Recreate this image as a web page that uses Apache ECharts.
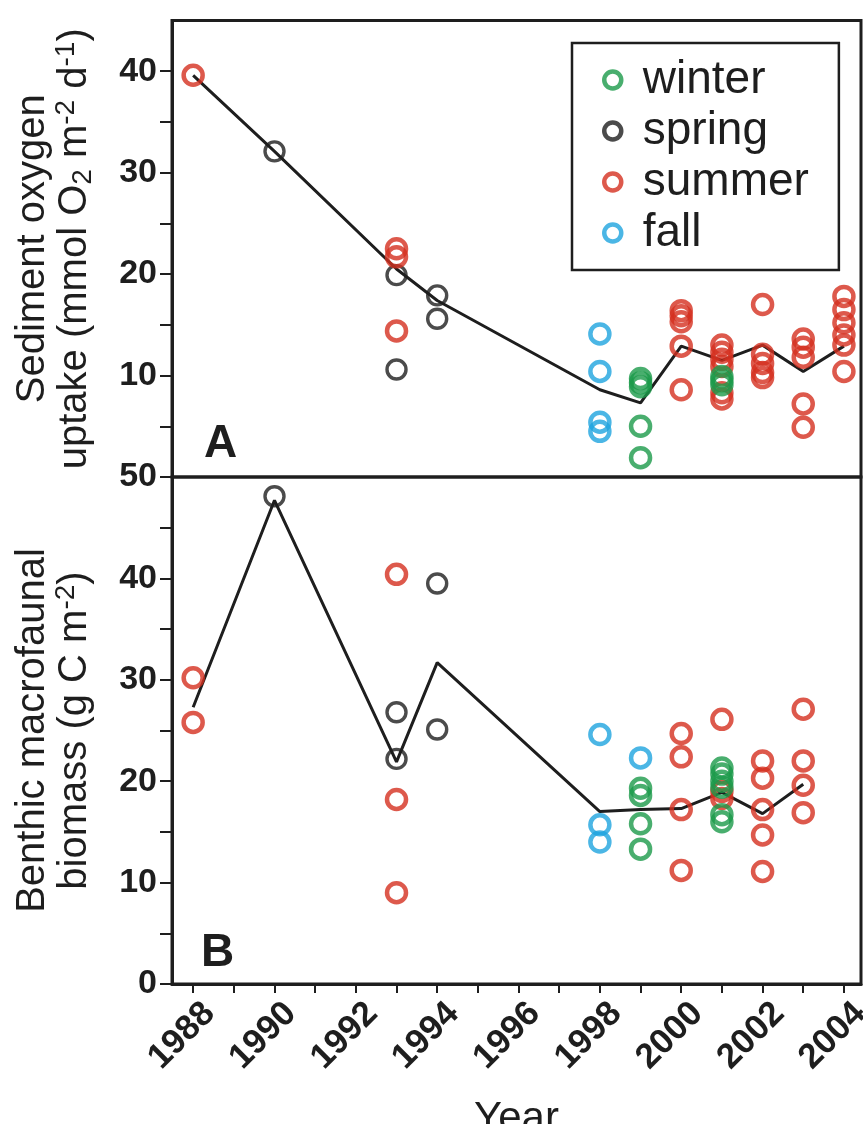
<!DOCTYPE html>
<html>
<head>
<meta charset="utf-8">
<script src="https://cdn.jsdelivr.net/npm/echarts@6/dist/echarts.min.js"></script>
<style>
html,body{margin:0;padding:0;background:#fff;}
#c{width:863px;height:1124px;}
</style>
</head>
<body>
<div id="c"></div>
<script>
// ---------- data ----------
const seasons = ['winter', 'spring', 'summer', 'fall'];
const yearTicks = [1988,1989,1990,1991,1992,1993,1994,1995,1996,1997,1998,1999,2000,2001,2002,2003,2004];
const yearLabels = [1988,1990,1992,1994,1996,1998,2000,2002,2004];
const topTicks = [5,10,15,20,25,30,35,40];
const topLabels = [10,20,30,40];
const botTicks = [0,5,10,15,20,25,30,35,40,45,50];
const botLabels = [0,10,20,30,40,50];

// Panel A: sediment oxygen uptake
const oxyWinter = [[1999,9.7],[1999,9.3],[1999,8.9],[1999,5.0],[1999,1.9],[2001,9.9],[2001,9.5],[2001,9.1]];
const oxySpring = [[1990,32.1],[1993,19.9],[1993,10.6],[1994,17.9],[1994,15.6]];
const oxySummer = [[1988,39.6],[1993,22.5],[1993,21.7],[1993,14.4],
  [2000,16.4],[2000,15.9],[2000,15.3],[2000,12.9],[2000,8.6],
  [2001,13.0],[2001,12.3],[2001,11.6],[2001,10.9],[2001,8.3],[2001,7.7],
  [2002,17.0],[2002,12.1],[2002,11.2],[2002,10.3],[2002,9.8],
  [2003,13.6],[2003,12.8],[2003,11.8],[2003,7.2],[2003,4.9],
  [2004,17.8],[2004,16.5],[2004,15.2],[2004,14.0],[2004,13.0],[2004,10.4]];
const oxyFall = [[1998,14.1],[1998,10.4],[1998,5.4],[1998,4.5]];
const oxyLineYears = [1988,1990,1993,1994,1998,1999,2000,2001,2002,2003,2004];
const oxyLineVals  = [39.6,32.1,20.5,17.4,8.6,7.3,12.9,11.5,13.0,10.4,12.9];

// Panel B: benthic macrofaunal biomass
const bioWinter = [[1999,19.3],[1999,18.6],[1999,15.8],[1999,13.3],[2001,21.3],[2001,20.7],[2001,20.0],[2001,19.4],[2001,16.7],[2001,16.0]];
const bioSpring = [[1990,48.1],[1993,26.8],[1993,22.2],[1994,39.5],[1994,25.1]];
const bioSummer = [[1988,30.2],[1988,25.8],[1993,40.4],[1993,18.2],[1993,9.0],
  [2000,24.7],[2000,22.4],[2000,17.2],[2000,11.2],
  [2001,26.1],[2001,19.0],[2001,18.3],
  [2002,22.0],[2002,20.3],[2002,17.2],[2002,14.7],[2002,11.1],
  [2003,27.1],[2003,22.0],[2003,19.6],[2003,16.9]];
const bioFall = [[1998,24.6],[1998,15.7],[1998,14.0],[1999,22.3]];
const bioLineYears = [1988,1990,1993,1994,1998,1999,2000,2001,2002,2003];
const bioLineVals  = [27.3,47.7,21.9,31.7,17.0,17.2,17.3,18.9,16.8,19.7];

// ---------- styles ----------
const FONT = 'Liberation Sans, Arial, sans-serif';
const INK = '#1e1e1e';
const colors = {winter:'#1c9a4a', spring:'#1e1e1e', summer:'#d4301f', fall:'#1ea4de'};
const ringW = {winter:4.5, spring:3.4, summer:4.5, fall:4.5};

function scatter(name, data, idx){
  return {
    name, type:'scatter', xAxisIndex:idx, yAxisIndex:idx, data,
    symbol:'circle', symbolSize:19,
    itemStyle:{color:'rgba(255,255,255,0)', borderColor:colors[name], borderWidth:ringW[name]},
    emphasis:{disabled:true}, z:3
  };
}
function line(years, vals, idx){
  return {
    type:'line', xAxisIndex:idx, yAxisIndex:idx,
    data: years.map((y,i)=>[y, vals[i]]),
    showSymbol:false, symbol:'none',
    lineStyle:{color:INK, width:3}, z:2, silent:true
  };
}

const xCommon = {type:'value', min:1987.48, max:2004.42, splitLine:{show:false}};
const yName = {
  nameLocation:'middle', nameRotate:90, nameGap:76,
  nameTextStyle:{fontFamily:FONT, fontSize:40, color:INK, lineHeight:42, align:'center',
    rich:{
      sub:{fontFamily:FONT, fontSize:28, color:INK, padding:[16,0,0,0]},
      sup:{fontFamily:FONT, fontSize:28, color:INK, padding:[0,0,18,0]}
    }}
};
const axisLabelStyle = {fontFamily:FONT, fontSize:34, fontWeight:'bold', color:INK};

const option = {
  backgroundColor:'#fff',
  animation:false,
  grid:[
    {left:172, top:20.5, width:689, height:456.5, show:true, borderColor:INK, borderWidth:3,
     backgroundColor:'transparent', outerBoundsMode:'none', containLabel:false},
    {left:172, top:477, width:689, height:507, show:true, borderColor:INK, borderWidth:3,
     backgroundColor:'transparent', outerBoundsMode:'none', containLabel:false}
  ],
  xAxis:[
    Object.assign({}, xCommon, {gridIndex:0, axisLine:{show:false}, axisTick:{show:false}, axisLabel:{show:false}}),
    Object.assign({}, xCommon, {gridIndex:1,
      axisLine:{show:true, onZero:false, lineStyle:{color:INK, width:3}},
      axisTick:{show:true, customValues:yearTicks, length:9, lineStyle:{color:INK, width:2}},
      axisLabel:{customValues:yearLabels, rotate:45, margin:8, verticalAlign:'top', lineHeight:36,
        padding:[5,0,0,0], formatter:v=>String(v),
        fontFamily:FONT, fontSize:35, fontWeight:'bold', color:INK},
      name:'Year', nameLocation:'middle', nameGap:114,
      nameTextStyle:{fontFamily:FONT, fontSize:42, color:INK}
    })
  ],
  yAxis:[
    Object.assign({}, yName, {type:'value', gridIndex:0, min:0, max:45,
      splitLine:{show:false},
      axisLine:{show:true, onZero:false, lineStyle:{color:INK, width:3}},
      axisTick:{show:true, customValues:topTicks, length:12, lineStyle:{color:INK, width:2}},
      axisLabel:Object.assign({customValues:topLabels, margin:15}, axisLabelStyle),
      name:'Sediment oxygen\nuptake (mmol O{sub|2} m{sup|-2} d{sup|-1})'
    }),
    Object.assign({}, yName, {type:'value', gridIndex:1, min:0, max:50,
      splitLine:{show:false},
      axisLine:{show:true, onZero:false, lineStyle:{color:INK, width:3}},
      axisTick:{show:true, customValues:botTicks, length:12, lineStyle:{color:INK, width:2}},
      axisLabel:Object.assign({customValues:botLabels, margin:15}, axisLabelStyle),
      name:'Benthic macrofaunal\nbiomass (g C m{sup|-2})'
    })
  ],
  legend:{
    orient:'vertical', left:572, top:43, padding:[14,30,14,30], itemGap:5,
    itemWidth:50, itemHeight:17, borderColor:INK, borderWidth:2.5, backgroundColor:'#fff',
    selectedMode:false,
    textStyle:{fontFamily:FONT, fontSize:46, color:INK},
    data: seasons.map(s=>({name:s, icon:'circle',
      itemStyle:{color:'#fff', borderColor:colors[s], borderWidth:4.5}}))
  },
  graphic:[
    {type:'text', left:204, top:421, style:{text:'A', fontFamily:FONT, fontSize:46, fontWeight:'bold', fill:INK}},
    {type:'text', left:201, top:930, style:{text:'B', fontFamily:FONT, fontSize:46, fontWeight:'bold', fill:INK}}
  ],
  series:[
    line(oxyLineYears, oxyLineVals, 0),
    scatter('fall', oxyFall, 0),
    scatter('spring', oxySpring, 0),
    scatter('summer', oxySummer, 0),
    scatter('winter', oxyWinter, 0),
    line(bioLineYears, bioLineVals, 1),
    scatter('fall', bioFall, 1),
    scatter('spring', bioSpring, 1),
    scatter('summer', bioSummer, 1),
    scatter('winter', bioWinter, 1)
  ]
};
const chart = echarts.init(document.getElementById('c'), null, {renderer:'canvas'});
chart.setOption(option);
</script>
</body>
</html>
